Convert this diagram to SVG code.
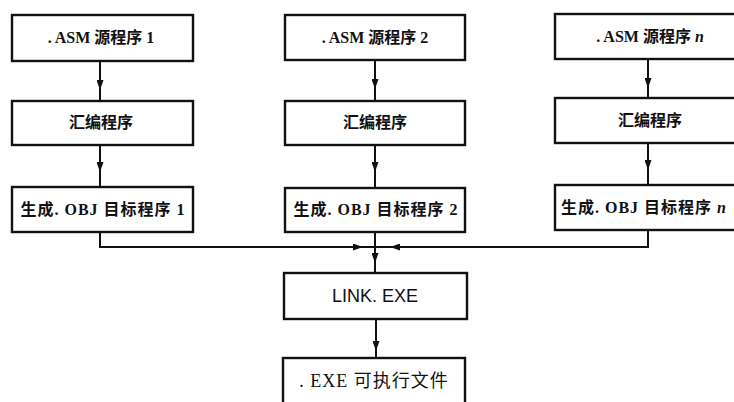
<svg xmlns="http://www.w3.org/2000/svg" width="734" height="402" viewBox="0 0 734 402">
<style>
.box{fill:#fff;stroke:#111;stroke-width:2.4}
.ln{fill:none;stroke:#111;stroke-width:2}
.t{font-family:"Liberation Serif","Noto Sans CJK SC",serif;font-size:16px;font-weight:bold;fill:#111;text-anchor:middle}
.o{font-size:16px;letter-spacing:1px}
</style>
<defs>
<marker id="ah" markerUnits="userSpaceOnUse" markerWidth="11" markerHeight="7" refX="10" refY="3.5" orient="auto">
<path d="M0,0 L10,3.5 L0,7 z" fill="#111"/>
</marker>
</defs>
<rect width="734" height="402" fill="#fff"/>
<g id="connectors">
<path class="ln" d="M100 61 V101"/><path class="ln" d="M100 78 V90" marker-end="url(#ah)"/>
<path class="ln" d="M100 145 V187"/><path class="ln" d="M100 160 V172" marker-end="url(#ah)"/>
<path class="ln" d="M375 60 V101"/><path class="ln" d="M375 76 V89" marker-end="url(#ah)"/>
<path class="ln" d="M375 145 V188"/><path class="ln" d="M375 160 V172" marker-end="url(#ah)"/>
<path class="ln" d="M648 59 V98"/><path class="ln" d="M648 74 V88" marker-end="url(#ah)"/>
<path class="ln" d="M648 143 V185"/><path class="ln" d="M648 157 V170" marker-end="url(#ah)"/>
<path class="ln" d="M100 232 V247 H648 V230"/>
<path class="ln" d="M375 232 V273"/>
<path class="ln" d="M345 247 H363" marker-end="url(#ah)"/>
<path class="ln" d="M405 247 H390" marker-end="url(#ah)"/>
<path class="ln" d="M375 250 V263" marker-end="url(#ah)"/>
<path class="ln" d="M376 319 V358"/><path class="ln" d="M376 335 V351" marker-end="url(#ah)"/>
</g>
<g id="asm1"><rect class="box" x="12" y="15" width="181" height="46"/><text class="t" x="101" y="43">. ASM 源程序 1</text></g>
<g id="asm2"><rect class="box" x="285" y="15" width="180" height="45"/><text class="t" x="375" y="43">. ASM 源程序 2</text></g>
<g id="asmn"><rect class="box" x="555" y="14" width="190" height="45"/><text class="t" x="650" y="42">. ASM 源程序 <tspan font-style="italic">n</tspan></text></g>
<g id="hb1"><rect class="box" x="12" y="101" width="181" height="44"/><text class="t" x="101" y="128">汇编程序</text></g>
<g id="hb2"><rect class="box" x="285" y="101" width="180" height="44"/><text class="t" x="375" y="128">汇编程序</text></g>
<g id="hbn"><rect class="box" x="555" y="98" width="190" height="45"/><text class="t" x="650" y="126">汇编程序</text></g>
<g id="obj1"><rect class="box" x="12" y="187" width="181" height="45"/><text class="t o" x="103" y="215">生成. OBJ 目标程序 1</text></g>
<g id="obj2"><rect class="box" x="285" y="188" width="180" height="44"/><text class="t o" x="376" y="215">生成. OBJ 目标程序 2</text></g>
<g id="objn"><rect class="box" x="555" y="185" width="190" height="45"/><text class="t o" x="644" y="213">生成. OBJ 目标程序 <tspan font-style="italic">n</tspan></text></g>
<g id="link"><rect class="box" x="284" y="273" width="183" height="46"/><text class="t" x="375" y="302" style="font-weight:normal;font-family:'Liberation Sans',sans-serif;font-size:18px">LINK. EXE</text></g>
<g id="exe"><rect class="box" x="283" y="358" width="182" height="50"/><text class="t" x="374" y="387" style="font-weight:normal;font-size:18px;letter-spacing:1px">. EXE 可执行文件</text></g>
</svg>
